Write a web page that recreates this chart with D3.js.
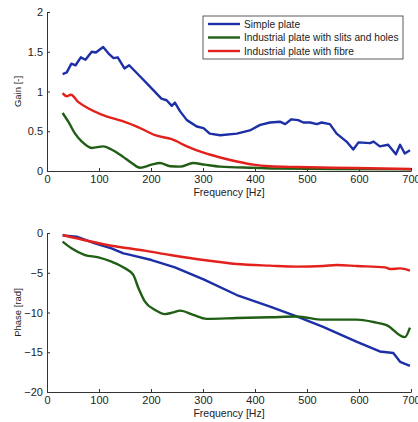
<!DOCTYPE html>
<html>
<head>
<meta charset="utf-8">
<script src="https://cdnjs.cloudflare.com/ajax/libs/d3/7.8.5/d3.min.js"></script>
<style>
body{margin:0;background:#fff}
.axis text{font-family:"Liberation Sans",Arial,sans-serif;font-size:11px;fill:#222}
.axis path,.axis line{stroke:#333}
</style>
</head>
<body>
<div id="chart"></div>
<script>
// data: [frequency Hz, value]
var gainSimple=[[30,1.22],[38,1.24],[47,1.35],[55,1.33],[65,1.43],[74,1.40],[86,1.50],[94,1.49],[108,1.56],[118,1.48],[128,1.42],[136,1.43],[149,1.29],[158,1.33],[182,1.17],[204,1.02],[220,0.91],[230,0.89],[240,0.82],[246,0.86],[256,0.75],[269,0.64],[288,0.56],[301,0.54],[313,0.47],[333,0.45],[365,0.47],[390,0.51],[410,0.58],[429,0.61],[448,0.62],[458,0.59],[470,0.65],[483,0.64],[493,0.61],[506,0.61],[519,0.59],[528,0.61],[544,0.59],[557,0.47],[576,0.37],[589,0.27],[599,0.36],[621,0.35],[628,0.37],[640,0.31],[656,0.33],[671,0.21],[679,0.33],[688,0.22],[698,0.26]];
var gainSlits=[[30,0.73],[41,0.62],[54,0.47],[67,0.37],[86,0.29],[108,0.31],[124,0.27],[144,0.19],[163,0.10],[179,0.04],[201,0.08],[217,0.10],[237,0.06],[256,0.055],[281,0.10],[303,0.08],[333,0.055],[397,0.04],[450,0.03],[550,0.025],[700,0.02]];
var gainFibre=[[30,0.98],[38,0.94],[46,0.96],[60,0.87],[79,0.79],[105,0.71],[144,0.63],[176,0.55],[208,0.45],[240,0.40],[269,0.31],[301,0.23],[333,0.17],[365,0.12],[397,0.08],[429,0.06],[480,0.05],[550,0.04],[620,0.035],[700,0.025]];

var phaseSimple=[[30,-0.3],[57,-0.46],[92,-1.3],[124,-1.93],[147,-2.56],[156,-2.68],[201,-3.40],[246,-4.32],[301,-5.83],[365,-7.80],[429,-9.27],[480,-10.5],[531,-11.8],[596,-13.7],[640,-14.9],[666,-15.1],[679,-16.2],[698,-16.7]];
var phaseSlits=[[30,-1.09],[47,-1.93],[73,-2.77],[99,-3.06],[124,-3.61],[150,-4.44],[166,-5.28],[176,-6.96],[188,-8.6],[208,-9.69],[227,-10.2],[243,-9.98],[256,-9.77],[281,-10.3],[307,-10.8],[365,-10.7],[429,-10.6],[480,-10.5],[531,-10.9],[596,-10.9],[628,-11.2],[653,-11.6],[688,-13.1],[698,-11.9]];
var phaseFibre=[[30,-0.25],[124,-1.6],[188,-2.22],[237,-2.77],[301,-3.40],[365,-3.90],[429,-4.11],[480,-4.23],[531,-4.15],[557,-4.03],[596,-4.15],[650,-4.32],[660,-4.53],[679,-4.45],[698,-4.74]];

var legendNames=["Simple plate","Industrial plate with slits and holes","Industrial plate with fibre"];
var colors=["#1c2fa6","#1f5e14","#e3211c"];
var xTicks=[0,100,200,300,400,500,600,700];
var gainTicks=[0,0.5,1,1.5,2];
var phaseTicks=[0,-5,-10,-15,-20];

var svg=d3.select("#chart").append("svg")
	.attr("width",418)
	.attr("height",422);

var x=d3.scaleLinear().domain([0,700]).range([47,411]);

function panel(top,bottom,domain,ticks,ylabel,series,curves){
	var y=d3.scaleLinear().domain(domain).range([bottom,top]);
	svg.append("g").attr("class","axis")
		.attr("transform","translate(0,"+bottom+")")
		.call(d3.axisBottom(x).tickValues(xTicks).tickSize(-3).tickPadding(4).tickSizeOuter(0));
	svg.append("g").attr("class","axis")
		.attr("transform","translate(47,0)")
		.call(d3.axisLeft(y).tickValues(ticks).tickFormat(d3.format("~g")).tickSize(-3).tickPadding(4).tickSizeOuter(0));
	series.forEach(function(s,i){
		var line=d3.line().x(function(d){return x(d[0]);}).y(function(d){return y(d[1]);}).curve(curves[i]);
		svg.append("path")
			.datum(s)
			.attr("fill","none")
			.attr("stroke",colors[i])
			.attr("stroke-width",2.4)
			.attr("stroke-linejoin","round")
			.attr("d",line);
	});
	svg.append("text")
		.attr("transform","translate(21,"+((top+bottom)/2)+") rotate(-90)")
		.attr("text-anchor","middle")
		.attr("font-family","Liberation Sans,Arial,sans-serif")
		.attr("font-size","9.5px")
		.attr("fill","#222")
		.text(ylabel);
	svg.append("text")
		.attr("x",229)
		.attr("y",bottom+25)
		.attr("text-anchor","middle")
		.attr("font-family","Liberation Sans,Arial,sans-serif")
		.attr("font-size","10.5px")
		.attr("fill","#222")
		.text("Frequency [Hz]");
}

panel(12,171,[0,2],gainTicks,"Gain [-]",[gainSimple,gainSlits,gainFibre],[d3.curveLinear,d3.curveMonotoneX,d3.curveMonotoneX]);
panel(233,392,[-20,0],phaseTicks,"Phase [rad]",[phaseSimple,phaseSlits,phaseFibre],[d3.curveLinear,d3.curveMonotoneX,d3.curveMonotoneX]);

// legend
var lg=svg.append("g");
lg.append("rect")
	.attr("x",203).attr("y",16).attr("width",200).attr("height",43)
	.attr("fill","#fff").attr("stroke","#333").attr("stroke-width",0.8);
legendNames.forEach(function(n,i){
	lg.append("line")
		.attr("x1",208).attr("x2",240)
		.attr("y1",24+i*13.5).attr("y2",24+i*13.5)
		.attr("stroke",colors[i]).attr("stroke-width",2.4);
	lg.append("text")
		.attr("x",244).attr("y",27.5+i*13.5)
		.attr("font-family","Liberation Sans,Arial,sans-serif")
		.attr("font-size","10.2px")
		.attr("fill","#222")
		.text(n);
});
</script>
</body>
</html>
